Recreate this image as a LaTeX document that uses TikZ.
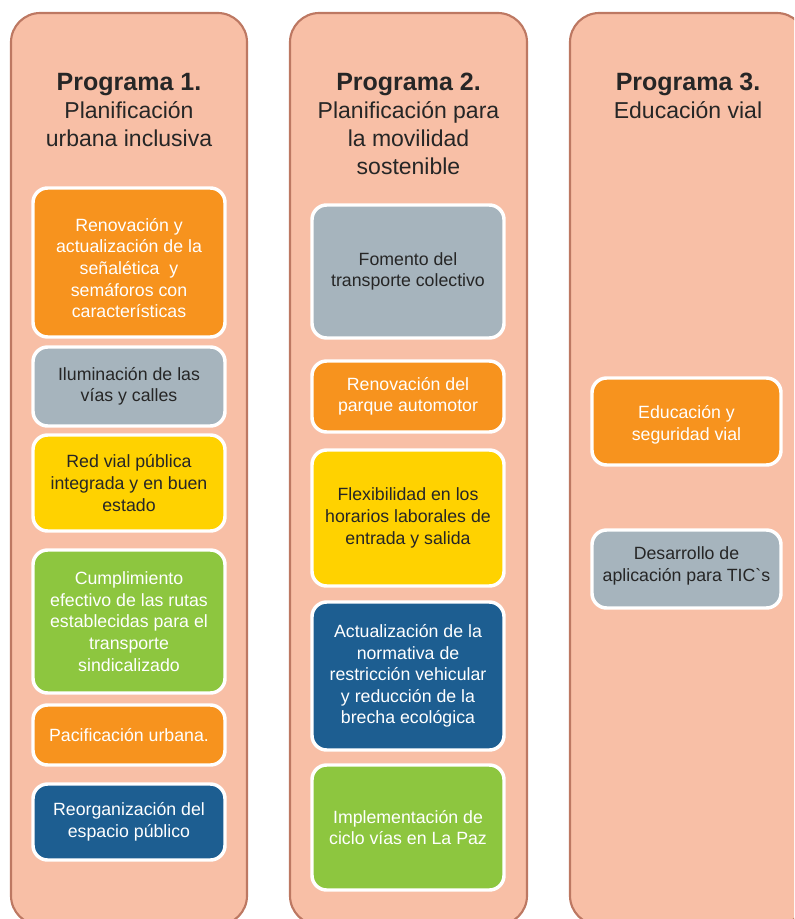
\documentclass[tikz,border=0pt]{standalone}
\usepackage{fontspec}
\setmainfont{Liberation Sans}[Ligatures=TeXOff]
\definecolor{colfill}{HTML}{F8BFA6}
\definecolor{colline}{HTML}{BD7862}
\definecolor{corange}{HTML}{F7931E}
\definecolor{cgray}{HTML}{A6B4BD}
\definecolor{cyellow}{HTML}{FFD200}
\definecolor{cgreen}{HTML}{8DC63F}
\definecolor{cblue}{HTML}{1D5E91}
\definecolor{cdark}{HTML}{262626}
\begin{document}
\begin{tikzpicture}[x=0.75pt,y=-0.75pt,
  column/.style={fill=colfill,draw=colline,line width=1.6pt,rounded corners=22pt},
  title/.style={anchor=north,inner sep=0pt,align=center,text=cdark,
    font=\fontsize{17.25}{21}\selectfont},
  box/.style={draw=white,line width=2.6pt,rounded corners=11pt,align=center,
    inner sep=2pt,font=\fontsize{13.3}{16.2}\selectfont},
  boxw/.style={box,text=white},
  boxd/.style={box,text=cdark},
  txt/.style={align=center,inner sep=0pt,font=\fontsize{13.3}{16.2}\selectfont},
  w1/.style={minimum width=144pt},
  w3/.style={minimum width=141.75pt}]
\useasboundingbox (0,0) rectangle (794,919);
\clip (0,0) rectangle (794,919);
% columns
\draw[column] (11,13) rectangle (247,925);
\draw[column] (290,13) rectangle (527,925);
\draw[column] (570,13) rectangle (806,925);
% titles
\node[title] (t1) at (129,73) {{\fontsize{18.75}{21}\selectfont\bfseries Programa 1.}\\Planificación\\urbana inclusiva};
\node[title] (t2) at (408.5,73) {{\fontsize{18.75}{21}\selectfont\bfseries Programa 2.}\\Planificación para\\la movilidad\\sostenible};
\node[title] (t3) at (688,73) {{\fontsize{18.75}{21}\selectfont\bfseries Programa 3.}\\Educación vial};
% column 1
\node[boxw,w1,fill=corange,minimum height=111.75pt] (a1) at (129,262.5) {};
\node[txt,text=white] (a1t) at (129,268) {Renovación y\\actualización de la\\señalética \ y\\semáforos con\\características};
\node[boxd,w1,fill=cgray,minimum height=59.25pt] (a2) at (129,386.5) {Iluminación de las\\vías y calles};
\node[boxd,w1,fill=cyellow,minimum height=72pt] (a3) at (129,483) {Red vial pública\\integrada y en buen\\estado};
\node[boxw,w1,fill=cgreen,minimum height=107.25pt] (a4) at (129,621.5) {Cumplimiento\\efectivo de las rutas\\establecidas para el\\transporte\\sindicalizado};
\node[boxw,w1,fill=corange,minimum height=45pt] (a5) at (129,735) {Pacificación urbana.};
\node[boxw,w1,fill=cblue,minimum height=57pt] (a6) at (129,822) {Reorganización del\\espacio público};
% column 2
\node[boxd,w1,fill=cgray,minimum height=99.75pt] (b1) at (408,271.5) {Fomento del\\transporte colectivo};
\node[boxw,w1,fill=corange,minimum height=53.25pt] (b2) at (408,396.5) {Renovación del\\parque automotor};
\node[boxd,w1,fill=cyellow,minimum height=102pt] (b3) at (408,518) {Flexibilidad en los\\horarios laborales de\\entrada y salida};
\node[boxw,w1,fill=cblue,minimum height=111pt] (b4) at (408,676) {Actualización de la\\normativa de\\restricción vehicular\\y reducción de la\\brecha ecológica};
\node[boxw,w1,fill=cgreen,minimum height=93.75pt] (b5) at (408,827.5) {Implementación de\\ciclo vías en La Paz};
% column 3
\node[boxw,w3,fill=corange,minimum height=65.25pt] (c1) at (686.5,421.5) {};
\node[txt,text=white] (c1t) at (686.5,425) {Educación y\\seguridad vial};
\node[boxd,w3,fill=cgray,minimum height=58.5pt] (c2) at (686.5,569) {};
\node[txt,text=cdark] (c2t) at (686.5,566) {Desarrollo de\\aplicación para TIC`s};
\end{tikzpicture}
\end{document}
